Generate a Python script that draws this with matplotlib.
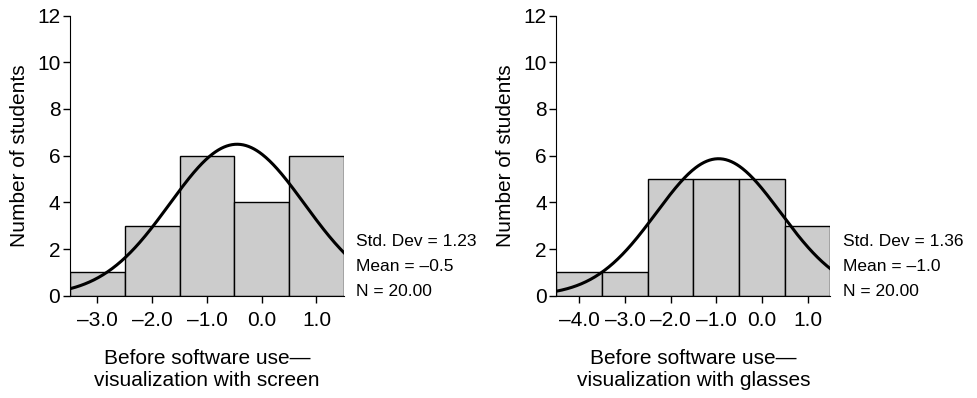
import numpy as np
import matplotlib.pyplot as plt

plt.rcParams['font.family'] = ['Liberation Sans', 'DejaVu Sans']

# bin centres and counts
screen_centers = [-3.0, -2.0, -1.0, 0.0, 1.0]
screen_counts = [1, 3, 6, 4, 6]
glasses_centers = [-4.0, -3.0, -2.0, -1.0, 0.0, 1.0]
glasses_counts = [1, 1, 5, 5, 5, 3]

screen_ticks = [-3.0, -2.0, -1.0, 0.0, 1.0]
glasses_ticks = [-4.0, -3.0, -2.0, -1.0, 0.0, 1.0]

# normal curve parameters (mean from counts, sd as printed)
screen_mean, screen_sd = -0.45, 1.23
glasses_mean, glasses_sd = -0.95, 1.36

screen_stats = ["Std. Dev = 1.23", "Mean = \u20130.5", "N = 20.00"]
glasses_stats = ["Std. Dev = 1.36", "Mean = \u20131.0", "N = 20.00"]

screen_label = "Before software use\u2014\nvisualization with screen"
glasses_label = "Before software use\u2014\nvisualization with glasses"


def draw_hist(ax, centers, counts, ticks, mu, sd, stats, xlabel):
    n = sum(counts)
    ax.bar(centers, counts, width=1.0, color='#cccccc', edgecolor='black', linewidth=1.0)
    lo, hi = centers[0] - 0.5, centers[-1] + 0.5
    xs = np.linspace(lo, hi, 300)
    ys = n * 1.0 / (sd * np.sqrt(2 * np.pi)) * np.exp(-0.5 * ((xs - mu) / sd) ** 2)
    ax.plot(xs, ys, color='black', linewidth=2.2)
    ax.set_xlim(lo, hi)
    ax.set_ylim(0, 12)
    ax.set_yticks(range(0, 13, 2))
    ax.set_xticks(ticks)
    ax.set_xticklabels([f"{t:.1f}".replace('-', '\u2013') for t in ticks])
    ax.spines['top'].set_visible(False)
    ax.spines['right'].set_visible(False)
    ax.tick_params(labelsize=15, length=5, width=1)
    ax.tick_params(axis='x', pad=6)
    ax.tick_params(axis='y', pad=2)
    ax.set_ylabel("Number of students", fontsize=15, labelpad=6)
    ax.set_xlabel(xlabel, fontsize=15, labelpad=14)
    for i, line in enumerate(stats):
        ax.text(1.045, 0.195 - i * 0.09, line, transform=ax.transAxes,
                fontsize=12.5, va='center', ha='left')


fig = plt.figure(figsize=(9.78, 3.98), dpi=100)
ax1 = fig.add_axes([0.0716, 0.257, 0.280, 0.704])
ax2 = fig.add_axes([0.569, 0.257, 0.280, 0.704])

draw_hist(ax1, screen_centers, screen_counts, screen_ticks, screen_mean, screen_sd,
          screen_stats, screen_label)
draw_hist(ax2, glasses_centers, glasses_counts, glasses_ticks, glasses_mean, glasses_sd,
          glasses_stats, glasses_label)

fig.savefig("out.png", dpi=100)
